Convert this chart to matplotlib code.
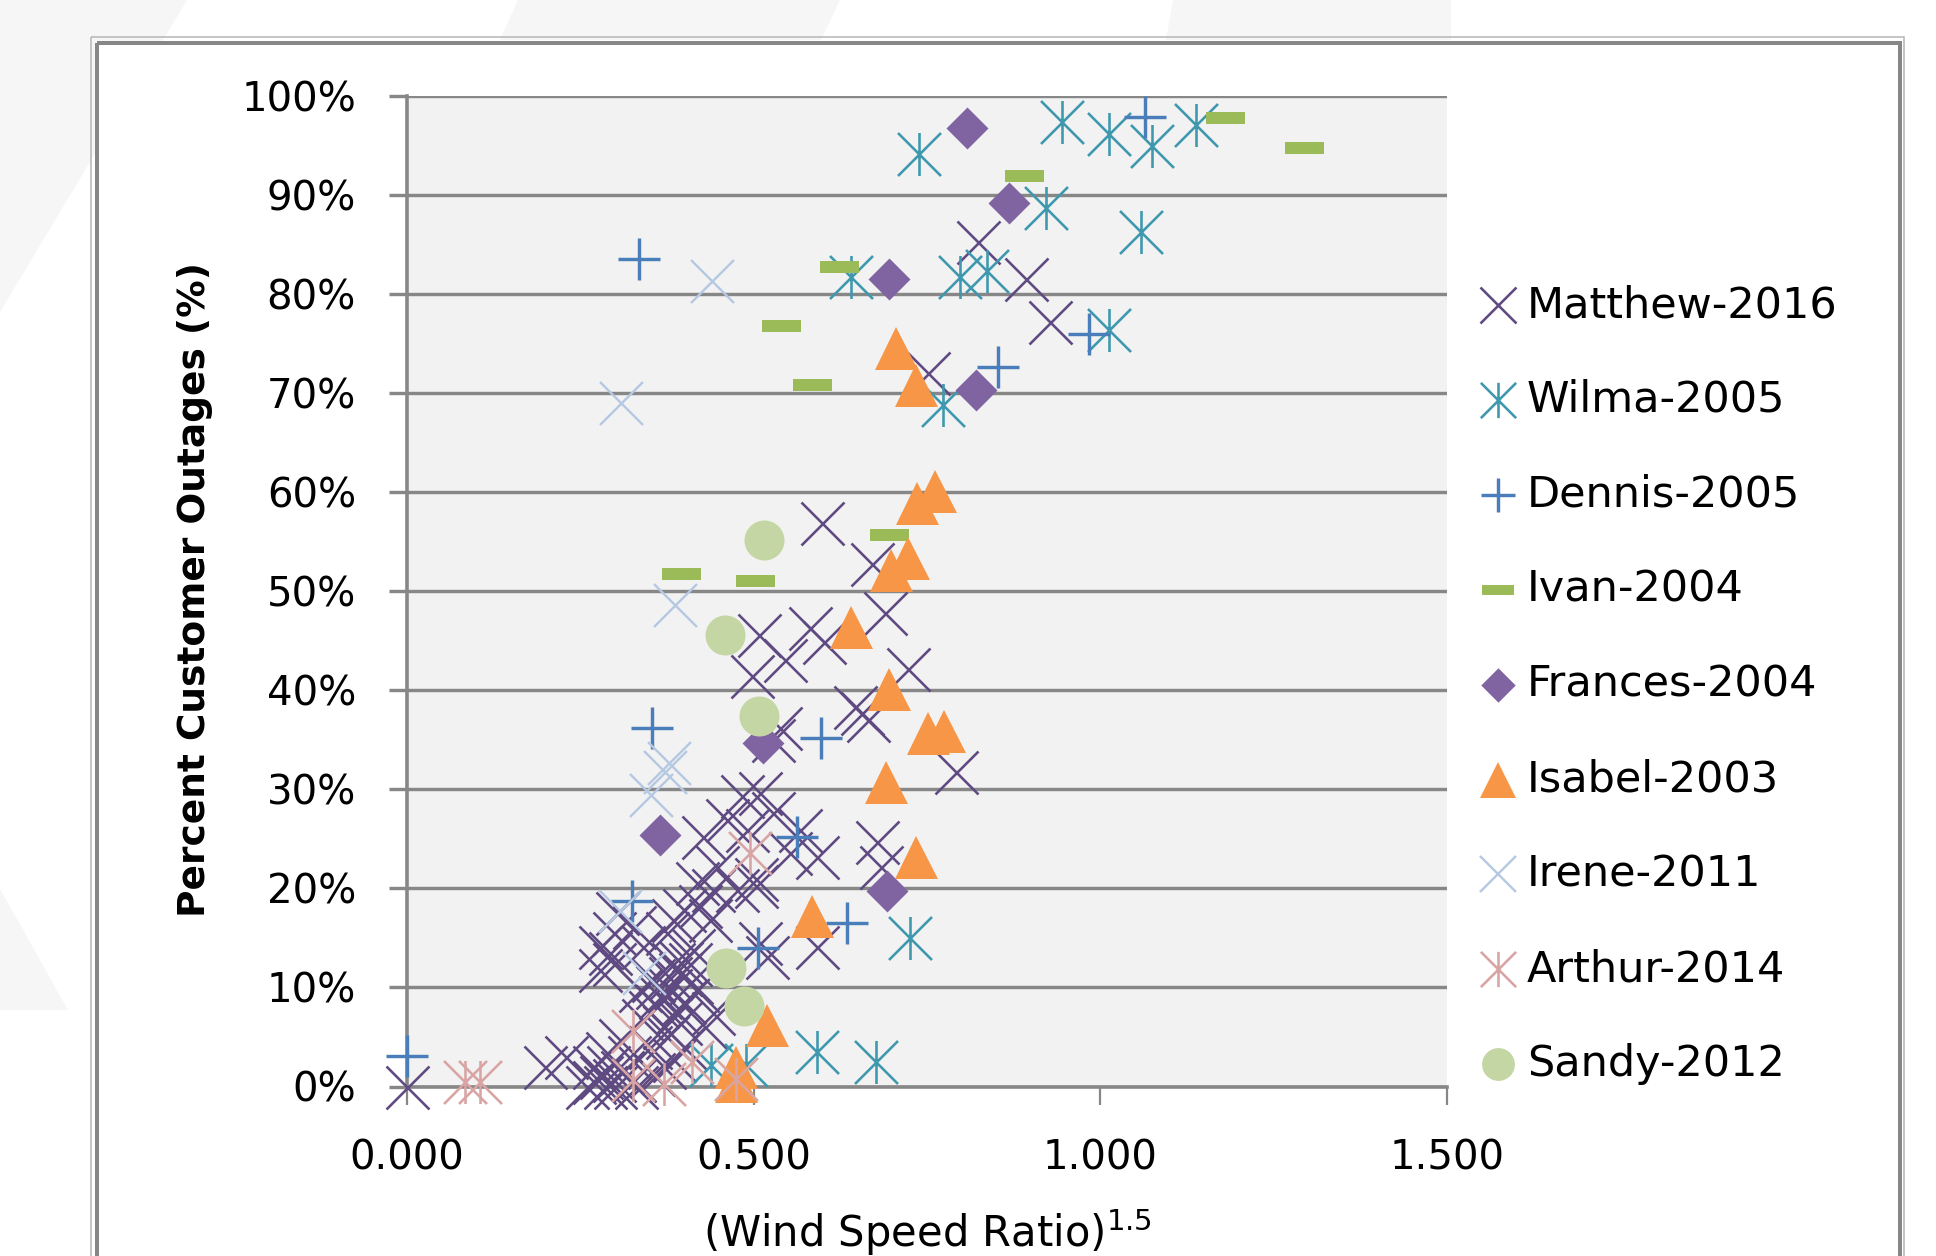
import matplotlib
matplotlib.use('Agg')
import matplotlib.pyplot as plt
from matplotlib.path import Path
from matplotlib.patches import Polygon, Rectangle
from matplotlib.ticker import FuncFormatter, MultipleLocator

plt.rcParams['font.family'] = ['DejaVu Sans']

# ---- data: x = (wind speed ratio)^1.5, y = customer outages (%) ----
matthew_x = [0.824, 0.893, 0.927, 0.752, 0.598, 0.689, 0.670, 0.507, 0.581, 0.601,
             0.545, 0.497, 0.723, 0.646, 0.656, 0.528, 0.538, 0.665, 0.792, 0.678,
             0.683, 0.591, 0.483, 0.509, 0.461, 0.528, 0.427, 0.490, 0.567, 0.591,
             0.553, 0.447, 0.504, 0.476, 0.418, 0.399, 0.437, 0.375, 0.341, 0.303,
             0.293, 0.413, 0.384, 0.278, 0.509, 0.000, 0.199, 0.230, 0.269, 0.285,
             0.298, 0.327, 0.288, 0.307, 0.341, 0.360, 0.379, 0.394, 0.408, 0.418,
             0.355, 0.336, 0.298, 0.278, 0.298, 0.327, 0.384, 0.423, 0.442, 0.504,
             0.519, 0.394, 0.375, 0.442, 0.385, 0.355, 0.260, 0.300, 0.330, 0.400,
             0.365, 0.410, 0.350, 0.320, 0.370, 0.400, 0.430, 0.370, 0.390, 0.380,
             0.360, 0.395, 0.350, 0.280, 0.290, 0.310, 0.270]
matthew_y = [85.3, 81.5, 77.2, 72.0, 56.9, 47.8, 52.8, 45.6, 46.3, 44.9,
             43.1, 41.4, 42.2, 38.3, 37.7, 35.0, 36.2, 37.0, 31.8, 24.7,
             22.2, 14.1, 29.3, 29.6, 26.9, 27.6, 25.2, 25.9, 25.9, 23.2,
             23.6, 22.2, 20.9, 19.8, 20.5, 17.8, 16.8, 15.5, 14.1, 17.5,
             13.5, 13.8, 12.4, 11.8, 14.5, 0.0, 2.0, 3.0, 2.0, 0.0,
             0.7, 0.7, 3.4, 4.7, 6.7, 8.1, 9.7, 11.4, 12.4, 9.7,
             10.8, 9.7, 12.4, 14.1, 15.5, 16.1, 16.8, 18.2, 19.8, 20.2,
             13.1, 6.4, 5.0, 7.4, 2.7, 1.3, 0.0, 0.0, 0.0, 8.5,
             9.0, 10.5, 4.0, 3.0, 2.0, 4.0, 6.0, 6.0, 7.5, 11.0,
             10.0, 12.5, 7.5, 1.0, 2.0, 1.5, 0.5]

wilma_x = [0.944, 1.012, 1.075, 1.138, 0.738, 0.921, 1.058, 0.641, 0.798, 0.837,
           1.012, 0.773, 0.725, 0.591, 0.677, 0.438, 0.489]
wilma_y = [97.4, 96.2, 95.0, 97.1, 94.1, 88.7, 86.3, 81.7, 81.7, 82.3,
           76.4, 68.8, 15.0, 3.5, 2.5, 2.2, 2.2]

dennis_x = [1.065, 0.335, 0.852, 0.984, 0.353, 0.597, 0.563, 0.324, 0.634, 0.506, 0.000]
dennis_y = [97.9, 83.5, 72.6, 76.0, 36.2, 35.2, 25.2, 18.7, 16.5, 14.0, 3.1]

ivan_x = [1.180, 1.294, 0.890, 0.623, 0.539, 0.584, 0.695, 0.395, 0.502]
ivan_y = [97.8, 94.7, 91.9, 82.7, 76.8, 70.8, 55.7, 51.7, 51.0]

frances_x = [0.807, 0.868, 0.695, 0.820, 0.513, 0.365, 0.693]
frances_y = [96.8, 89.2, 81.5, 70.3, 34.7, 25.4, 19.7]

isabel_x = [0.705, 0.734, 0.736, 0.761, 0.698, 0.722, 0.641, 0.695, 0.752, 0.775,
            0.691, 0.734, 0.584, 0.519, 0.475, 0.475]
isabel_y = [74.6, 70.8, 58.9, 60.1, 52.1, 53.4, 46.4, 40.1, 35.7, 35.9,
            30.7, 23.2, 17.2, 6.2, 2.0, 0.6]

irene_x = [0.440, 0.308, 0.387, 0.378, 0.372, 0.352, 0.307, 0.342]
irene_y = [81.3, 69.0, 48.6, 32.7, 31.8, 29.4, 17.7, 11.5]

arthur_x = [0.084, 0.105, 0.326, 0.326, 0.370, 0.411, 0.474, 0.495]
arthur_y = [0.5, 0.5, 5.6, 0.7, 0.3, 2.5, 0.8, 23.6]

sandy_x = [0.515, 0.458, 0.508, 0.460, 0.486]
sandy_y = [55.2, 45.6, 37.4, 12.0, 8.1]

# ---- figure setup (pixel based layout, dpi 100) ----
W, H, DPI = 1936, 1256, 100
fig = plt.figure(figsize=(W / DPI, H / DPI), dpi=DPI)
fig.patch.set_facecolor('white')


def pt(p):
    # pixels -> points
    return p * 72.0 / DPI


# background layer: faint shapes, chart frame, legend
bg = fig.add_axes([0, 0, 1, 1], zorder=-5)
bg.set_xlim(0, W)
bg.set_ylim(H, 0)
bg.axis('off')
for poly in [[(0, 0), (187, 0), (0, 312)],
             [(518, 0), (840, 0), (821, 40), (500, 40)],
             [(1173, 0), (1451, 0), (1451, 40), (1166, 40)],
             [(0, 889), (68, 1010), (0, 1010)]]:
    bg.add_patch(Polygon(poly, closed=True, fc='#F6F6F6', ec='none', zorder=1))
bg.add_patch(Rectangle((97, 43), 1803, 1300, fc='white', ec='none', zorder=2))
bg.add_patch(Rectangle((91, 37), 1813, 1300, fill=False, ec='#B4B4B4', lw=pt(1.5), zorder=3))
bg.add_patch(Rectangle((97, 43), 1803, 1300, fill=False, ec='#878787', lw=pt(4), zorder=3))

asterisk = Path([(-1, -1), (1, 1), (-1, 1), (1, -1), (0, -1), (0, 1)],
                [Path.MOVETO, Path.LINETO, Path.MOVETO, Path.LINETO, Path.MOVETO, Path.LINETO])
dash = [(-1, -0.31), (1, -0.31), (1, 0.31), (-1, 0.31), (-1, -0.31)]
diamond = [(0, 1), (1, 0), (0, -1), (-1, 0), (0, 1)]

series = [
    ('Matthew-2016', matthew_x, matthew_y,
     dict(marker='x', ms=43, mew=2.6, mec='#604A82', mfc='none')),
    ('Wilma-2005', wilma_x, wilma_y,
     dict(marker=asterisk, ms=43, mew=2.6, mec='#3E98AE', mfc='none')),
    ('Dennis-2005', dennis_x, dennis_y,
     dict(marker='+', ms=42, mew=3.4, mec='#4A7EBB', mfc='none')),
    ('Ivan-2004', ivan_x, ivan_y,
     dict(marker=dash, ms=39, mew=0, mec='#9BBB59', mfc='#9BBB59')),
    ('Frances-2004', frances_x, frances_y,
     dict(marker=diamond, ms=42, mew=0, mec='#8064A2', mfc='#8064A2')),
    ('Isabel-2003', isabel_x, isabel_y,
     dict(marker='^', ms=43, mew=0, mec='#F79646', mfc='#F79646')),
    ('Irene-2011', irene_x, irene_y,
     dict(marker='x', ms=43, mew=2.4, mec='#B6C9E2', mfc='none')),
    ('Arthur-2014', arthur_x, arthur_y,
     dict(marker=asterisk, ms=43, mew=2.6, mec='#D9A5A4', mfc='none')),
    ('Sandy-2012', sandy_x, sandy_y,
     dict(marker='o', ms=40, mew=0, mec='#C4D6A4', mfc='#C4D6A4')),
]

# ---- main plot ----
ax = fig.add_axes([407 / W, (H - 1086.5) / H, 1040 / W, 990.5 / H])
ax.set_facecolor('#F2F2F2')
ax.set_xlim(0, 1.5)
ax.set_ylim(0, 100)

for i, (name, xs, ys, st) in enumerate(series):
    ax.plot(xs, ys, ls='none', marker=st['marker'], ms=pt(st['ms']), mew=pt(st['mew']),
            mec=st['mec'], mfc=st['mfc'], clip_on=False, zorder=4 + i)

ax.xaxis.set_major_locator(MultipleLocator(0.5))
ax.yaxis.set_major_locator(MultipleLocator(10))
ax.xaxis.set_major_formatter(FuncFormatter(lambda v, p: f'{v:.3f}'))
ax.yaxis.set_major_formatter(FuncFormatter(lambda v, p: f'{v:.0f}%'))

ax.set_axisbelow(True)
ax.yaxis.grid(True, color='#878787', lw=pt(3.4))
for s in ['top', 'right']:
    ax.spines[s].set_visible(False)
for s in ['left', 'bottom']:
    ax.spines[s].set_color('#878787')
    ax.spines[s].set_linewidth(pt(3.6))
ax.tick_params(axis='y', direction='out', length=pt(18), width=pt(3.4), color='#878787',
               pad=pt(33), labelsize=29)
ax.tick_params(axis='x', direction='out', length=pt(18), width=pt(2.2), color='#878787',
               pad=pt(34), labelsize=29)

ax.set_ylabel('Percent Customer Outages (%)', fontsize=27, fontweight='bold')
ax.yaxis.set_label_coords(-0.204, 0.502)
ax.yaxis.label.set_va('center')
ax.set_xlabel(r'(Wind Speed Ratio)$^{1.5}$', fontsize=30)
ax.xaxis.set_label_coords(0.5, -0.147)
ax.xaxis.label.set_va('center')

# ---- legend (right side, one row per series) ----
for i, (name, xs, ys, st) in enumerate(series):
    ly = 305 + i * 94.9
    bg.plot([1498], [ly], ls='none', marker=st['marker'], ms=pt(st['ms'] * 0.82),
            mew=pt(st['mew']), mec=st['mec'], mfc=st['mfc'], clip_on=False, zorder=5)
    bg.text(1527, ly, name, fontsize=31, va='center', ha='left', zorder=5)

fig.savefig('out.png', dpi=DPI, facecolor='white')
